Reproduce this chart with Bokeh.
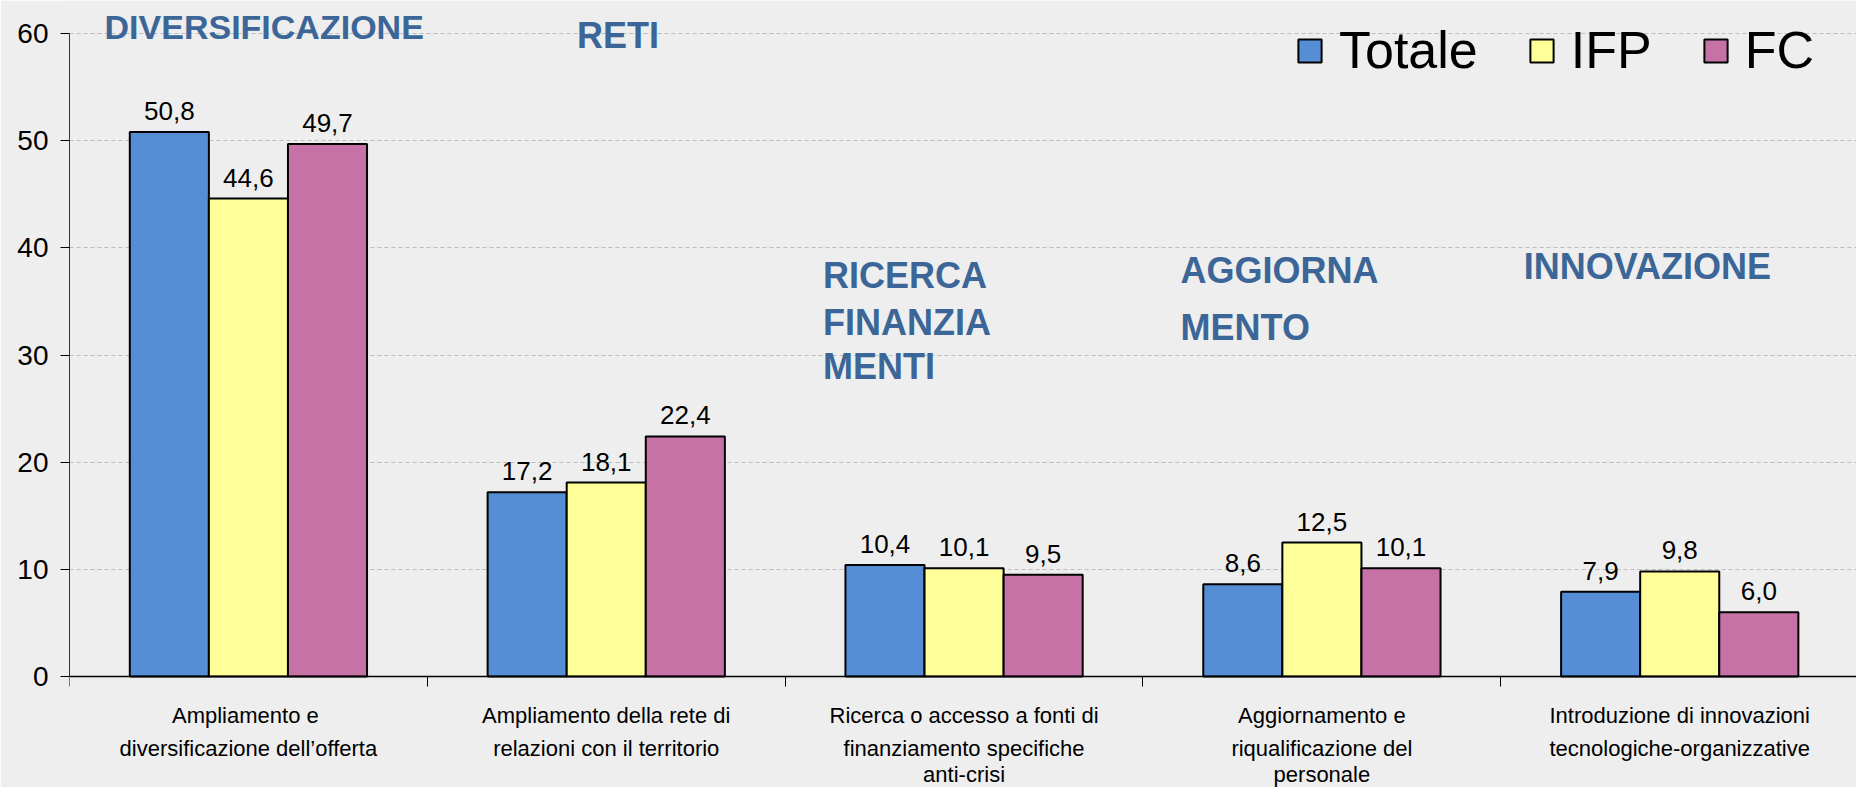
from bokeh.plotting import figure
from bokeh.models import Range1d, FixedTicker, ColumnDataSource, Legend, LegendItem, Label
from bokeh.embed import file_html
from bokeh.resources import INLINE
from bokeh.core.properties import value

# ---- data ----
categories = [
    "Ampliamento  e\ndiversificazione dell\u2019offerta",
    "Ampliamento della rete di\nrelazioni con il territorio",
    "Ricerca o accesso a fonti di\nfinanziamento specifiche\nanti-crisi",
    "Aggiornamento e\nriqualificazione del\npersonale",
    "Introduzione di innovazioni\ntecnologiche-organizzative",
]
series_names = ["Totale", "IFP", "FC"]
totale = [50.8, 17.2, 10.4, 8.6, 7.9]
ifp = [44.6, 18.1, 10.1, 12.5, 9.8]
fc = [49.7, 22.4, 9.5, 10.1, 6.0]
y_ticks = [0, 10, 20, 30, 40, 50, 60]
theme_words = ["DIVERSIFICAZIONE", "RETI", "RICERCA", "FINANZIA", "MENTI",
               "AGGIORNA", "MENTO", "INNOVAZIONE"]

# ---- styling ----
colors = ["#558ED5", "#FFFF99", "#C672A7"]
BG = "#EEEEEE"
THEME_COLOR = "#3B6697"
FONT = "Liberation Sans"

n = len(categories)
centers = [i + 0.5 for i in range(n)]
bar_w = 0.221
offsets = [-bar_w, 0.0, bar_w]

p = figure(width=1856, height=787, output_backend="svg", toolbar_location=None,
           x_range=Range1d(0, 4.994), y_range=Range1d(-10.357, 63.08),
           min_border_left=69, min_border_right=0, min_border_top=0,
           min_border_bottom=0, background_fill_color=BG, border_fill_color=BG,
           outline_line_color=None)

renderers = []
for vals, off, col in zip([totale, ifp, fc], offsets, colors):
    src = ColumnDataSource(dict(
        x=[c + off for c in centers], top=vals,
        lab=[f"{v:.1f}".replace(".", ",") for v in vals]))
    r = p.vbar(x="x", top="top", bottom=0, width=bar_w, source=src, fill_color=col,
               line_color="black", line_width=2)
    renderers.append(r)
    p.text(x="x", y="top", text="lab", source=src, text_align="center",
           text_baseline="alphabetic", y_offset=-21, text_font=value(FONT),
           text_font_size="26px", text_color="black")

# theme annotations (positions in data units)
theme_pos = [(0.098, 60.6, "34px"), (1.418, 59.8, "36px"),
             (2.106, 37.4, "36px"), (2.106, 33.0, "36px"), (2.106, 28.9, "36px"),
             (3.105, 37.85, "36px"), (3.105, 32.55, "36px"),
             (4.064, 38.25, "36px")]
for word, (tx, ty, fs) in zip(theme_words, theme_pos):
    p.add_layout(Label(x=tx, y=ty, text=word, text_font=FONT, text_font_size=fs,
                       text_font_style="bold", text_color=THEME_COLOR,
                       text_baseline="alphabetic", text_align="left"))

# x axis fixed at y=0 inside the frame; first two lines of each category as tick labels
split = [c.split("\n") for c in categories]
xa = p.xaxis[0]
xa.fixed_location = 0
xa.ticker = FixedTicker(ticks=centers, minor_ticks=list(range(n + 1)))
xa.major_label_overrides = {c: "\n".join(s[:2]) for c, s in zip(centers, split)}
xa.major_tick_out = 0
xa.major_tick_in = 0
xa.minor_tick_out = 10
xa.minor_tick_in = 0
xa.minor_tick_line_color = "black"
xa.axis_line_color = "black"
xa.axis_line_width = 1.5
xa.major_label_text_font = FONT
xa.major_label_text_font_size = "22px"
xa.major_label_text_color = "black"
xa.major_label_standoff = 16
xa.major_label_text_line_height = 1.35

# remaining label lines as text below the axis
ex_x, ex_t = [], []
for c, s in zip(centers, split):
    for extra in s[2:]:
        ex_x.append(c)
        ex_t.append(extra)
line3_y = -9.1
p.text(x=ex_x, y=[line3_y] * len(ex_x), text=ex_t, text_font=value(FONT),
       text_font_size="22px", text_color="black", text_align="center",
       text_baseline="middle")

ya = p.yaxis[0]
ya.ticker = FixedTicker(ticks=y_ticks)
ya.bounds = (0, 60)
ya.major_tick_out = 9
ya.major_tick_in = 0
ya.minor_tick_out = 0
ya.minor_tick_in = 0
ya.axis_line_color = "#333333"
ya.axis_line_width = 1
ya.major_label_text_font = FONT
ya.major_label_text_font_size = "28px"
ya.major_label_text_color = "black"
ya.major_label_standoff = 12

p.xgrid.grid_line_color = None
p.ygrid.ticker = FixedTicker(ticks=y_ticks[1:])
p.ygrid.grid_line_color = "#BDBDBD"
p.ygrid.grid_line_dash = "4 3"
p.ygrid.grid_line_width = 1

legend = Legend(items=[LegendItem(label=nm, renderers=[r]) for nm, r in zip(series_names, renderers)],
                orientation="horizontal", location=(1226, 707),
                label_text_font=FONT, label_text_font_size="52px", label_text_color="black",
                glyph_width=29, glyph_height=29, label_standoff=15, spacing=49,
                padding=0, margin=0, background_fill_alpha=0, border_line_color=None)
p.add_layout(legend)

open("out.html", "w").write(file_html(p, INLINE))
